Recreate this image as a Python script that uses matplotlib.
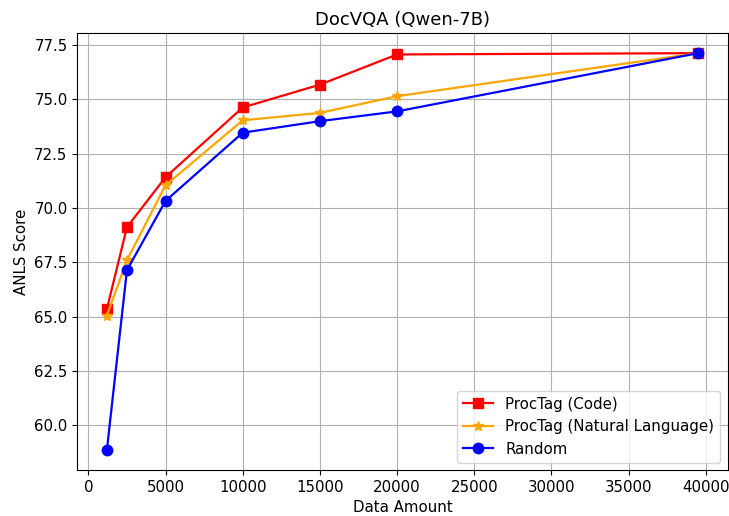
import numpy as np
import matplotlib.pyplot as plt

data_amount = [1200, 2500, 5000, 10000, 15000, 20000, 39500]
code_scores = [65.35, 69.12, 71.42, 74.63, 75.68, 77.07, 77.13]
nl_scores = [65.05, 67.6, 71.05, 74.04, 74.38, 75.15, 77.13]
random_scores = [58.86, 67.14, 70.33, 73.47, 74.0, 74.45, 77.13]

plt.rcParams['font.size'] = 10.8

fig = plt.figure(figsize=(7.29, 5.16), dpi=100)
ax = fig.add_axes([77.3 / 729, 46 / 516, 650.4 / 729, 436.7 / 516])
ax.plot(data_amount, code_scores, marker='s', color='red', markersize=7.5, linewidth=1.6, label='ProcTag (Code)')
ax.plot(data_amount, nl_scores, marker='*', color='orange', markersize=7.5, linewidth=1.6, label='ProcTag (Natural Language)')
ax.plot(data_amount, random_scores, marker='o', color='blue', markersize=7.5, linewidth=1.6, label='Random')
ax.set_title("DocVQA (Qwen-7B)")
ax.set_xlabel("Data Amount")
ax.set_ylabel("ANLS Score")
ax.set_xticks(np.arange(0, 40001, 5000))
ax.grid(True)
ax.legend(loc='lower right')
fig.savefig("out.png", dpi=100)
